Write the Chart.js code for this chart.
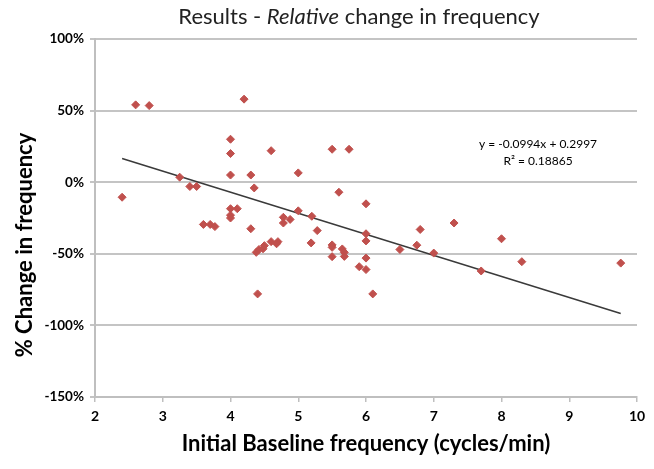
<!DOCTYPE html>
<html><head><meta charset="utf-8">
<script src="https://cdn.jsdelivr.net/npm/chart.js@4"></script>
<style>html,body{margin:0;padding:0;background:#fff;}#c{display:block;}</style>
</head><body>
<canvas id="c" width="654" height="469"></canvas>
<script>
// ---- data ----
const baselineFreq = [2.4, 2.6, 2.8, 3.25, 3.4, 3.5, 3.6, 3.7, 3.77, 4.0, 4.0, 4.0, 4.0, 4.1, 4.0, 4.0,
  4.2, 4.3, 4.35, 4.3, 4.38, 4.42, 4.48, 4.5, 4.6, 4.7, 4.68, 4.4, 4.6, 4.78, 4.88, 4.78,
  5.0, 5.0, 5.2, 5.28, 5.19, 5.5, 5.5, 5.5, 5.5, 5.6, 5.65, 5.68, 5.68, 5.75, 5.9,
  6.0, 6.0, 6.0, 6.0, 6.0, 6.1, 6.5, 6.75, 6.8, 7.0, 7.3, 7.7, 8.0, 8.3, 9.76];
const relChange = [-0.105, 0.54, 0.535, 0.035, -0.03, -0.03, -0.295, -0.295, -0.31, 0.30, 0.20, 0.05, -0.185, -0.185, -0.23, -0.25,
  0.58, 0.05, -0.04, -0.325, -0.49, -0.47, -0.465, -0.443, -0.415, -0.415, -0.43, -0.78, 0.22, -0.245, -0.26, -0.285,
  0.065, -0.20, -0.238, -0.338, -0.424, 0.23, -0.438, -0.455, -0.52, -0.07, -0.466, -0.49, -0.518, 0.23, -0.59,
  -0.151, -0.36, -0.41, -0.53, -0.61, -0.78, -0.47, -0.44, -0.33, -0.495, -0.285, -0.62, -0.395, -0.555, -0.565];
const trendX = [2.4, 9.76];
const trendY = [0.165, -0.917];
const xTickValues = [2, 3, 4, 5, 6, 7, 8, 9, 10];
const yTickValues = [1, 0.5, 0, -0.5, -1, -1.5];
const titleParts = ["Results - ", "Relative", " change in frequency"];
const xTitle = "Initial Baseline frequency (cycles/min)";
const yTitle = "% Change in frequency";
const equationLines = ["y = -0.0994x + 0.2997", "R\u00B2 = 0.18865"];

const FONT = "Lato, 'Open Sans', sans-serif";
const points = baselineFreq.map((x, i) => ({x: x, y: relChange[i]}));
const trend = trendX.map((x, i) => ({x: x, y: trendY[i]}));

const textPlugin = {
  id: 'texts',
  afterDraw(chart) {
    const ctx = chart.ctx;
    ctx.save();
    ctx.fillStyle = '#222';
    ctx.textBaseline = 'middle';
    // title with italic part
    const fonts = ["22px " + FONT, "italic 22px " + FONT, "22px " + FONT];
    let total = 0;
    const widths = titleParts.map((t, i) => { ctx.font = fonts[i]; const w = ctx.measureText(t).width; total += w; return w; });
    let tx = 359 - total / 2;
    ctx.textAlign = 'left';
    titleParts.forEach((t, i) => { ctx.font = fonts[i]; ctx.fillText(t, tx, 17); tx += widths[i]; });
    // axis titles
    ctx.fillStyle = '#000';
    ctx.textAlign = 'center';
    ctx.font = "bold 22px " + FONT;
    ctx.fillText(xTitle, 366, 444);
    ctx.save();
    ctx.translate(25, 245);
    ctx.rotate(-Math.PI / 2);
    ctx.fillText(yTitle, 0, 0);
    ctx.restore();
    // equation
    ctx.font = "12px " + FONT;
    ctx.fillText(equationLines[0], 538, 144);
    ctx.fillText(equationLines[1], 538, 161);
    ctx.restore();
  }
};

new Chart(document.getElementById('c'), {
  type: 'scatter',
  data: {
    datasets: [
      {
        label: 'Relative change',
        data: points,
        pointStyle: 'rectRot',
        pointRadius: 4,
        pointBackgroundColor: '#c0504d',
        pointBorderColor: '#c0504d',
        pointBorderWidth: 1,
        order: 1
      },
      {
        label: 'Linear trend',
        type: 'line',
        data: trend,
        borderColor: '#3a3a3a',
        borderWidth: 1.5,
        pointRadius: 0,
        fill: false,
        order: 2
      }
    ]
  },
  options: {
    responsive: false,
    devicePixelRatio: 1,
    animation: false,
    layout: {padding: {top: 39, right: 17, left: 0, bottom: 0}},
    plugins: {legend: {display: false}, tooltip: {enabled: false}, title: {display: false}},
    scales: {
      x: {
        type: 'linear', min: 2, max: 10,
        afterBuildTicks: s => { s.ticks = xTickValues.map(v => ({value: v})); },
        afterFit: s => { s.height = 72; },
        grid: {drawOnChartArea: false, drawTicks: true, tickLength: 5, color: '#bfbfbf', lineWidth: 1.5},
        border: {color: '#bfbfbf', width: 2},
        ticks: {color: '#000', padding: 6, font: {family: FONT, size: 14, weight: 'bold'}}
      },
      y: {
        type: 'linear', min: -1.5, max: 1,
        afterBuildTicks: s => { s.ticks = yTickValues.map(v => ({value: v})); },
        afterFit: s => { s.width = 95; },
        grid: {drawOnChartArea: true, drawTicks: true, tickLength: 5, color: '#c4c4c4', lineWidth: 2},
        border: {color: '#bfbfbf', width: 2},
        ticks: {color: '#000', padding: 6, font: {family: FONT, size: 13.5, weight: 'bold'},
          callback: v => Math.round(v * 100) + '%'}
      }
    }
  },
  plugins: [textPlugin]
});
</script>
</body></html>
